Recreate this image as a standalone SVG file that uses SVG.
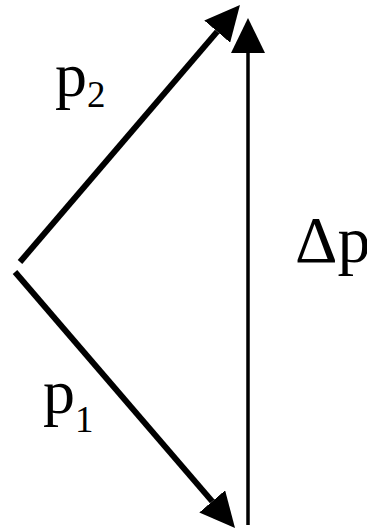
<svg xmlns="http://www.w3.org/2000/svg" width="367" height="531" viewBox="0 0 367 531">
<style>
.v{stroke:#000;fill:none;stroke-linecap:butt}
.thick{stroke-width:6}
.thin{stroke-width:3.5}
.lbl{fill:#000}
</style>
<defs>
<marker id="ah" viewBox="0 -17 35 34" markerWidth="35" markerHeight="34" refX="0" refY="0" markerUnits="userSpaceOnUse" orient="auto">
<path d="M0,-17 L35,0 L0,17 z" fill="#000"/>
</marker>
</defs>
<rect width="367" height="531" fill="#fff"/>
<g id="connectors">
<line id="p2-arrow" class="v thick" x1="20" y1="262" x2="217.2" y2="31.6" marker-end="url(#ah)"/>
<line id="p1-arrow" class="v thick" x1="15" y1="272" x2="212.2" y2="501.4" marker-end="url(#ah)"/>
<line id="dp-arrow" class="v thin" x1="248" y1="525" x2="248" y2="53" marker-end="url(#ah)"/>
</g>
<g font-family="Liberation Serif, serif">
<g id="label-p2"><text class="lbl" x="55" y="96" font-size="64">p<tspan font-size="37" dy="11">2</tspan></text></g>
<g id="label-p1"><text class="lbl" x="43" y="413" font-size="64">p<tspan font-size="37" dy="19">1</tspan></text></g>
<g id="label-dp"><text class="lbl" x="295" y="262" font-size="66">Δp</text></g>
</g>
</svg>
